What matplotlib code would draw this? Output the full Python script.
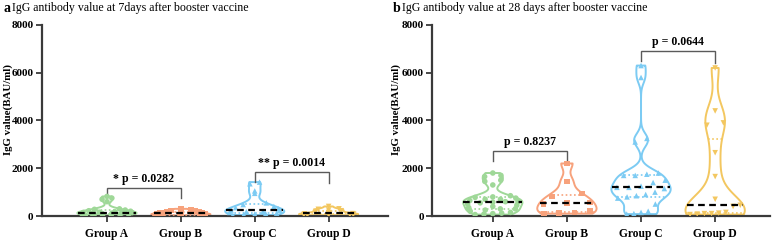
import numpy as np
import matplotlib
matplotlib.use("Agg")
import matplotlib.pyplot as plt
from matplotlib import mlab

plt.rcParams['font.family'] = ['Liberation Serif', 'DejaVu Serif']

groups = ["Group A", "Group B", "Group C", "Group D"]
colors = ["#9fd898", "#f7a27c", "#7ccbf3", "#f3c760"]
markers = ["o", "s", "^", "v"]

# 7 days after booster
day7_a = [820, 750, 700, 600, 300, 280, 250, 220, 200, 180, 160, 150, 140, 130,
          120, 110, 100, 90, 80, 70, 60, 50, 40, 30]
day7_b = [300, 250, 230, 200, 180, 160, 150, 130, 120, 100, 90, 80, 70, 60, 50, 40, 30, 20]
day7_c = [1420, 1350, 1050, 950, 550, 480, 400, 350, 300, 250, 230, 200, 180, 150,
          120, 100, 80, 60, 40]
day7_d = [400, 300, 280, 250, 220, 200, 150, 120, 100, 90, 80, 70, 60, 50, 40, 30]

# 28 days after booster
day28_a = [1800, 1700, 1650, 1500, 1450, 1300, 850, 800, 780, 750, 700, 700, 650, 600,
           600, 580, 550, 500, 450, 400, 350, 300, 300, 250, 200, 150, 120, 100, 80, 60]
day28_b = [2200, 1450, 950, 820, 560, 550, 500, 200, 150, 120, 100]
day28_c = [6300, 5800, 3250, 3100, 1800, 1750, 1700, 1700, 1500, 1400, 1250, 1200, 1200,
           1150, 1000, 900, 850, 800, 750, 500, 200, 150, 100, 80]
day28_d = [6200, 4400, 3900, 3800, 2650, 1650, 700, 450, 400, 150, 120, 100, 100, 80, 60]

panels = [
    dict(letter="a", title="IgG antibody value at 7days after booster vaccine",
         data=[day7_a, day7_b, day7_c, day7_d],
         brackets=[(1, 2, 1170, 800, 760, "* p = 0.0282"), (3, 4, 1840, 1420, 1380, "** p = 0.0014")],
         rect=[0.054, 0.1, 0.445, 0.796], xlim=(0.12, 4.8), bw=[0.45, 0.45, 0.4, 0.45],
         labx=-0.085),
    dict(letter="b", title="IgG antibody value at 28 days after booster vaccine",
         data=[day28_a, day28_b, day28_c, day28_d],
         brackets=[(1, 2, 2720, 2300, 2250, "p = 0.8237"), (3, 4, 6910, 6490, 6400, "p = 0.0644")],
         rect=[0.556, 0.1, 0.435, 0.796], xlim=(0.18, 4.74), bw=[0.35, 0.38, 0.17, 0.3],
         labx=-0.093),
]

fig = plt.figure(figsize=(7.77, 2.4), dpi=100)
axis_col = "#3a3a3a"

for p in panels:
    ax = fig.add_axes(p["rect"])
    pos = np.arange(1, 5)

    for i, vals in enumerate(p["data"]):
        vals = np.asarray(vals, float)
        bw = p["bw"][i]
        vp = ax.violinplot([vals], positions=[pos[i]], widths=0.8, showextrema=False,
                           bw_method=bw, points=300)
        body = vp["bodies"][0]
        body.set_facecolor("none")
        body.set_edgecolor(colors[i])
        body.set_linewidth(1.4)
        body.set_alpha(1)

        kde = mlab.GaussianKDE(vals, bw)
        grid = np.linspace(vals.min(), vals.max(), 300)
        dmax = kde.evaluate(grid).max()
        half = lambda v: 0.4 * kde.evaluate(np.atleast_1d(v))[0] / dmax
        # simple swarm: spread points of similar value across the violin
        order = np.argsort(vals)
        svals = vals[order]
        step = (vals.max() - vals.min()) / 14
        xs = np.zeros_like(svals)
        j = 0
        while j < len(svals):
            k = j
            while k < len(svals) and svals[k] - svals[j] <= step:
                k += 1
            n = k - j
            w = half(np.mean(svals[j:k])) * 0.85
            xs[j:k] = np.linspace(-w, w, n) if n > 1 else 0
            j = k
        ax.scatter(pos[i] + xs, svals, s=16, marker=markers[i], color=colors[i],
                   edgecolors="none", zorder=3)
        q1, med, q3 = np.percentile(vals, [25, 50, 75])
        for q, ls, lc, lw in [(q1, (0, (1, 1.5)), colors[i], 1.2), (q3, (0, (1, 1.5)), colors[i], 1.2),
                              (med, (0, (3, 2)), "black", 1.6)]:
            h = half(q)
            ax.hlines(q, pos[i] - h, pos[i] + h, colors=lc, linestyles=ls, linewidth=lw, zorder=4)

    for x1, x2, ytop, yleg1, yleg2, txt in p["brackets"]:
        ax.plot([x1, x1, x2, x2], [yleg1, ytop, ytop, yleg2], color="#5a5a5a", lw=1.0,
                solid_joinstyle="miter")
        ax.text((x1 + x2) / 2, ytop + 120, txt, ha="center", va="bottom",
                fontsize=8.6, fontweight="bold")

    ax.set_xlim(*p["xlim"])
    ax.set_ylim(0, 8000)
    ax.set_yticks([0, 2000, 4000, 6000, 8000])
    ax.set_xticks(pos)
    ax.set_xticklabels(groups, fontsize=8.3, fontweight="bold")
    for lab in ax.get_yticklabels():
        lab.set_fontweight("bold")
        lab.set_fontsize(8)
    ax.tick_params(axis="both", direction="out", length=4, width=1.3, color=axis_col, pad=2)
    ax.tick_params(axis="x", pad=5)
    for s in ["top", "right"]:
        ax.spines[s].set_visible(False)
    for s in ["left", "bottom"]:
        ax.spines[s].set_linewidth(1.6)
        ax.spines[s].set_color(axis_col)
    ax.set_ylabel("IgG value(BAU/ml)", fontsize=7.8, fontweight="bold")
    ax.yaxis.set_label_coords(p["labx"], 0.555)

    x0 = p["rect"][0]
    fig.text(x0 - 0.05, 0.99, p["letter"], fontsize=10, fontweight="bold", va="top")
    fig.text(x0 - 0.038, 0.99, p["title"], fontsize=8.6, va="top")

fig.savefig("out.png", dpi=100)
